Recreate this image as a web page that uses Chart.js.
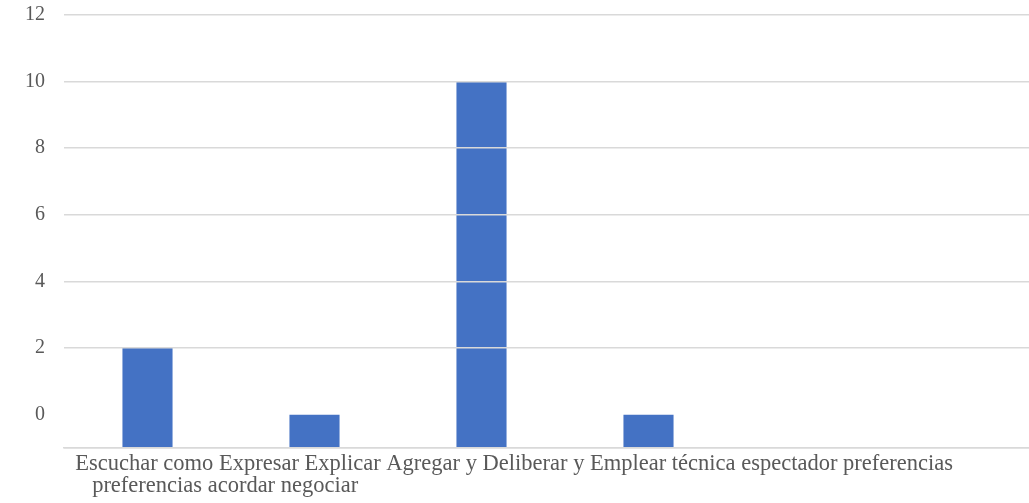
<!DOCTYPE html>
<html lang="es">
<head>
<meta charset="utf-8">
<title>Actividades</title>
<script src="https://cdn.jsdelivr.net/npm/chart.js@4/dist/chart.umd.min.js"></script>
<style>
  html, body { margin: 0; padding: 0; background: #fff; overflow: hidden; }
  #wrap { position: relative; width: 1066px; height: 503px; }
</style>
</head>
<body>
<div id="wrap"><canvas id="chart"></canvas></div>
<script>
// Categories and counts
const categories = [
  'Escuchar como espectador',
  'Expresar preferencias',
  'Explicar preferencias',
  'Agregar y acordar',
  'Deliberar y negociar',
  'Emplear técnica'
];
const counts = [2, 0, 10, 0, null, null];

// Value axis ticks (bottom of the axis sits one unit under zero)
const axisMin = -1;
const axisMax = 12;
const yTicks = [-1, 0, 2, 4, 6, 8, 10, 12];

// Category text under the axis, as it is laid out
const xLabelLines = [
  '  Escuchar como Expresar Explicar Agregar y Deliberar y Emplear técnica espectador preferencias',
  '     preferencias acordar negociar'
];

const GRID = '#d9d9d9';
const TEXT = '#595959';
const FONT = 'Liberation Serif, Times New Roman, serif';

new Chart(document.getElementById('chart'), {
  type: 'bar',
  data: {
    labels: categories,
    datasets: [{
      data: counts,
      base: axisMin,
      backgroundColor: '#4472C4',
      borderWidth: 0,
      barPercentage: 0.3,
      categoryPercentage: 1
    }]
  },
  options: {
    responsive: true,
    maintainAspectRatio: false,
    animation: false,
    layout: { padding: { top: 0, right: 0, bottom: 6, left: 0 } },
    plugins: {
      legend: { display: false },
      tooltip: { enabled: false }
    },
    scales: {
      x: {
        grid: { display: false, drawTicks: false },
        border: { display: true, color: GRID, width: 1.5 },
        ticks: { display: false },
        title: {
          display: true,
          align: 'start',
          text: xLabelLines,
          color: TEXT,
          font: { family: FONT, size: 22.5, lineHeight: '22px' },
          padding: { top: 5, bottom: 0 }
        }
      },
      y: {
        min: axisMin,
        max: axisMax,
        afterBuildTicks: (scale) => {
          scale.ticks = yTicks.map(v => ({ value: v }));
        },
        afterFit: (scale) => {
          scale.width = 64;
          // the wide tick padding is only meant horizontally
          scale.paddingTop = 15;
          scale.paddingBottom = 0;
        },
        border: { display: false },
        grid: {
          z: 1, // grid lines run across the bars
          drawTicks: false,
          lineWidth: 1.5,
          color: (ctx) => (ctx.tick && ctx.tick.value === 0 ? 'rgba(0,0,0,0)' : GRID)
        },
        ticks: {
          padding: 19,
          color: TEXT,
          font: { family: FONT, size: 20 },
          callback: (v) => (v < 0 ? '' : String(v))
        }
      }
    }
  }
});
</script>
</body>
</html>
